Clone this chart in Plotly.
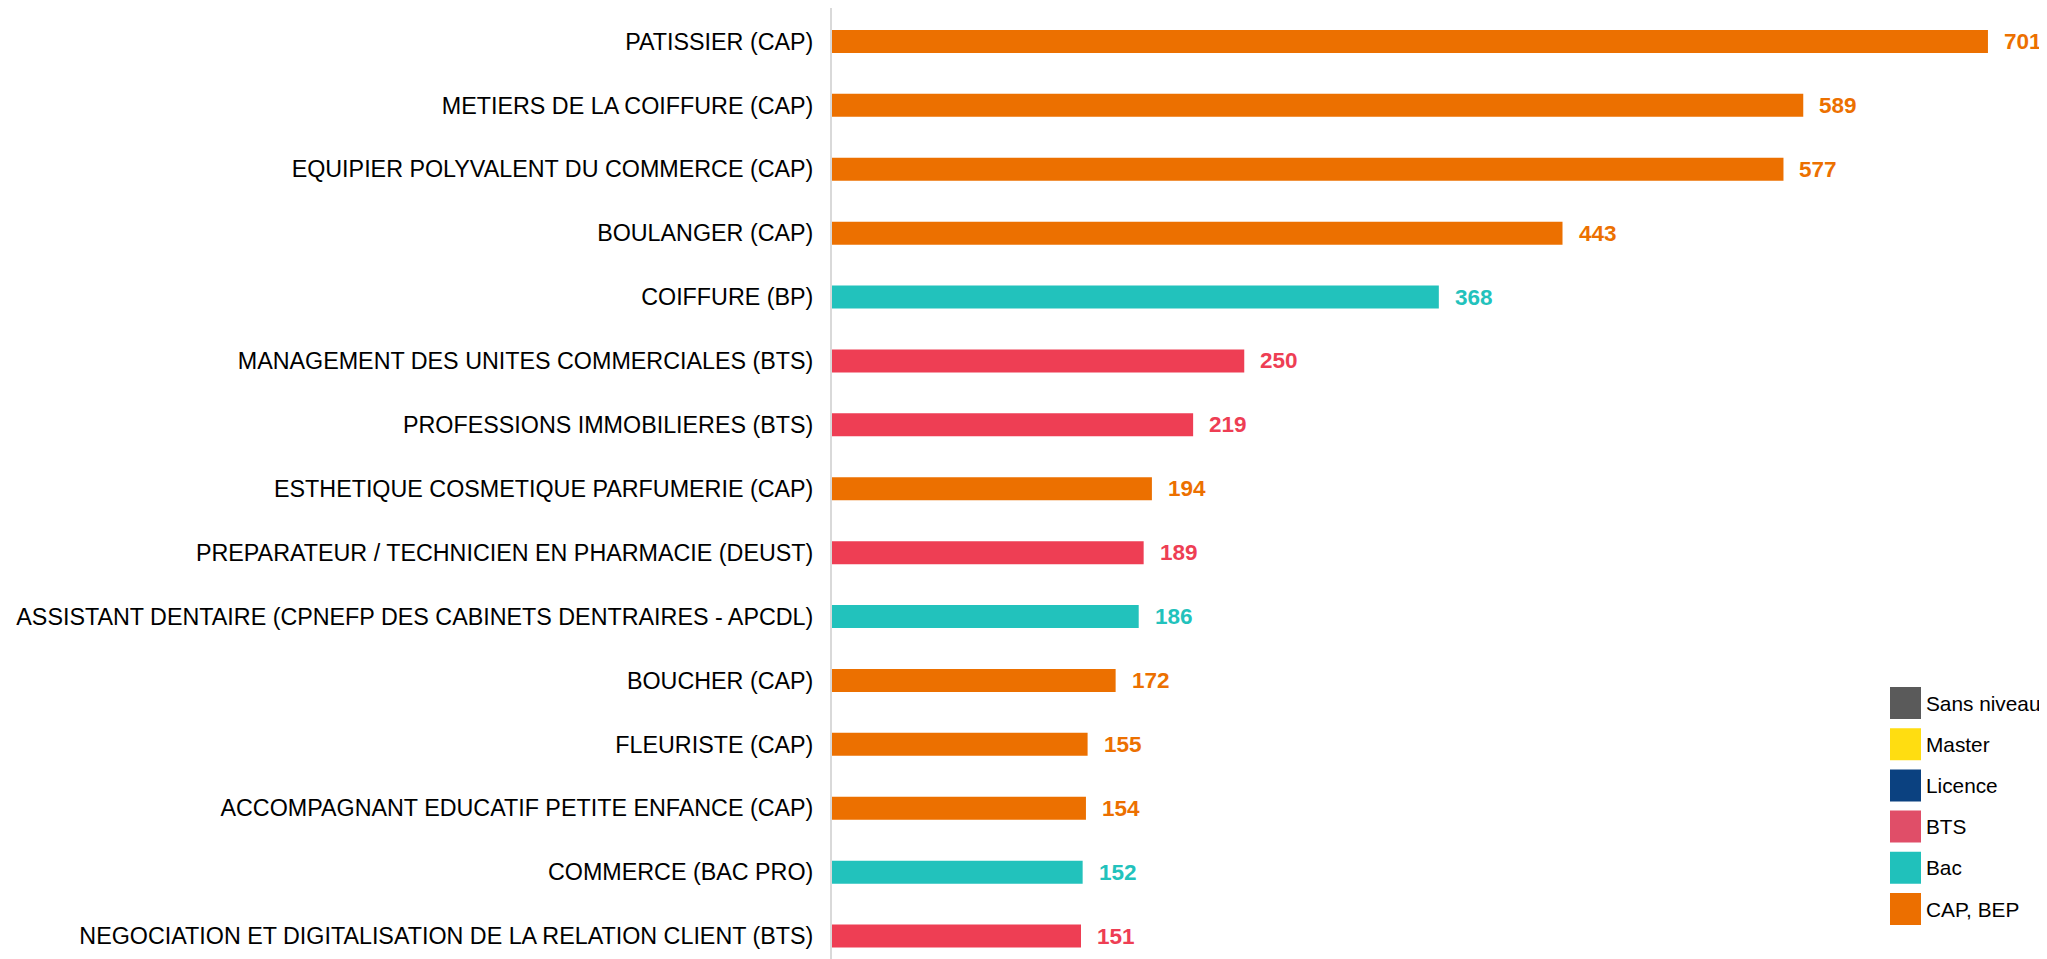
import plotly.graph_objects as go

categories = [
    "PATISSIER (CAP)",
    "METIERS DE LA COIFFURE (CAP)",
    "EQUIPIER POLYVALENT DU COMMERCE (CAP)",
    "BOULANGER (CAP)",
    "COIFFURE (BP)",
    "MANAGEMENT DES UNITES COMMERCIALES (BTS)",
    "PROFESSIONS IMMOBILIERES (BTS)",
    "ESTHETIQUE COSMETIQUE PARFUMERIE (CAP)",
    "PREPARATEUR / TECHNICIEN EN PHARMACIE (DEUST)",
    "ASSISTANT DENTAIRE (CPNEFP DES CABINETS DENTRAIRES - APCDL)",
    "BOUCHER (CAP)",
    "FLEURISTE (CAP)",
    "ACCOMPAGNANT EDUCATIF PETITE ENFANCE (CAP)",
    "COMMERCE (BAC PRO)",
    "NEGOCIATION ET DIGITALISATION DE LA RELATION CLIENT (BTS)",
]
values = [701, 589, 577, 443, 368, 250, 219, 194, 189, 186, 172, 155, 154, 152, 151]
levels = ["CAP", "CAP", "CAP", "CAP", "Bac", "BTS", "BTS", "CAP", "BTS", "Bac",
          "CAP", "CAP", "CAP", "Bac", "BTS"]

level_colors = {"CAP": "#EC7000", "Bac": "#22C2BC", "BTS": "#EE3E54"}

legend_labels = ["Sans niveau", "Master", "Licence", "BTS", "Bac", "CAP, BEP"]
legend_colors = ["#5A5A5A", "#FFDD11", "#0B4180", "#E04E68", "#20C1BB", "#EC6F00"]

OFF = 8  # default body margin of the html page
W, H = 2047 - OFF, 959 - OFF
L, R, T, B = 832 - OFF, 0, 0, 0
FONT = "Arial, Liberation Sans, sans-serif"

bar_colors = [level_colors[l] for l in levels]

fig = go.Figure()
fig.add_trace(go.Bar(
    x=values, y=categories, orientation="h",
    marker=dict(color=bar_colors, line=dict(width=0)),
    width=0.36, showlegend=False, hoverinfo="x+y",
))

for v, c, col in zip(values, categories, bar_colors):
    fig.add_annotation(x=v, y=c, xref="x", yref="y", text=str(v), showarrow=False,
                       xanchor="left", yanchor="middle", xshift=14,
                       font=dict(family=FONT, size=22.5, color=col, weight="bold"))

# custom legend (large square swatches), positions given in page pixels
plot_w = W - L - R
plot_h = H - T - B
def px2paper_x(px):
    return (px - OFF - L) / plot_w
def px2paper_y(py):
    return (H - B - (py - OFF)) / plot_h

for i, (lab, col) in enumerate(zip(legend_labels, legend_colors)):
    cy = 703 + i * 41.2
    fig.add_shape(type="rect", xref="paper", yref="paper",
                  x0=px2paper_x(1890), x1=px2paper_x(1921),
                  y0=px2paper_y(cy + 16), y1=px2paper_y(cy - 16),
                  fillcolor=col, line=dict(width=0))
    fig.add_annotation(x=px2paper_x(1924), y=px2paper_y(cy), xref="paper", yref="paper",
                       text=lab, showarrow=False, xanchor="left", yanchor="middle",
                       font=dict(family=FONT, size=20.8, color="#000000"))

top = -0.5 - 1.5 / 63.9
fig.update_layout(
    width=W, height=H, autosize=False,
    margin=dict(l=L, r=R, t=T, b=B, pad=0),
    plot_bgcolor="white", paper_bgcolor="white",
    showlegend=False,
    xaxis=dict(range=[0, plot_w / 1.649], showticklabels=False, showgrid=False,
               zeroline=False, showline=False, fixedrange=True),
    yaxis=dict(categoryorder="array", categoryarray=categories,
               range=[top + plot_h / 63.9, top],
               showline=True, linecolor="#D9D9D9", linewidth=2,
               showgrid=False, zeroline=False, ticks="", ticklabelstandoff=12,
               tickfont=dict(family=FONT, size=23.3, color="#000000"),
               automargin=False, fixedrange=True),
)

fig.write_html("out.html")
